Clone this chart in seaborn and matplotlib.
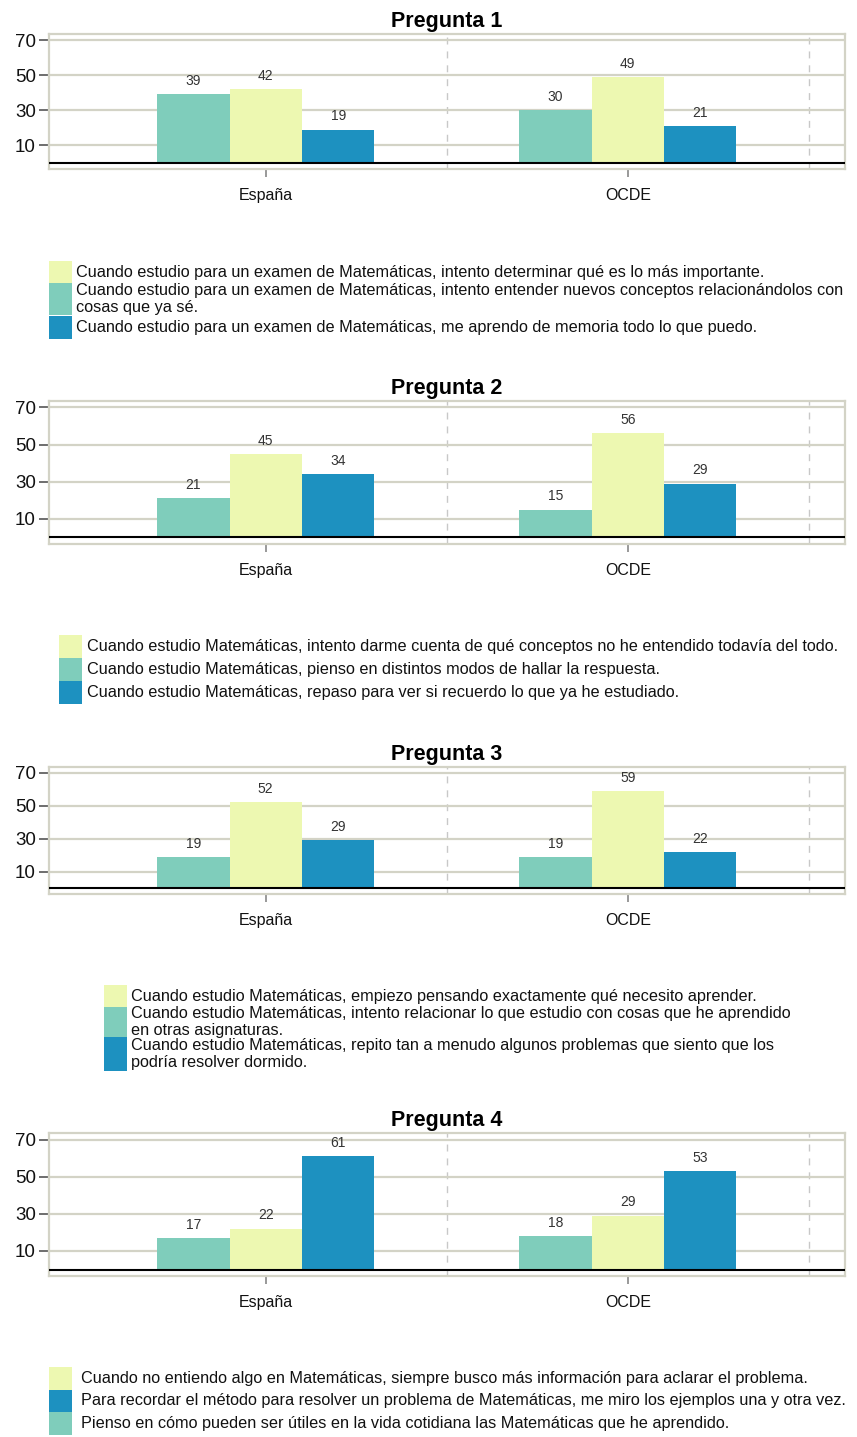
import pandas as pd
import seaborn as sns
import matplotlib.pyplot as plt
from matplotlib.patches import Rectangle

regions = ["España", "OCDE"]
# bar order inside each group: teal, yellow, blue
bar_colors = ["#7fcdbb", "#edf8b1", "#1d91c0"]

q1_items = [
    "Cuando estudio para un examen de Matemáticas, intento entender nuevos conceptos relacionándolos con\ncosas que ya sé.",
    "Cuando estudio para un examen de Matemáticas, intento determinar qué es lo más importante.",
    "Cuando estudio para un examen de Matemáticas, me aprendo de memoria todo lo que puedo.",
]
q1_espana = [39, 42, 19]
q1_ocde = [30, 49, 21]
q1_legend = [1, 0, 2]

q2_items = [
    "Cuando estudio Matemáticas, pienso en distintos modos de hallar la respuesta.",
    "Cuando estudio Matemáticas, intento darme cuenta de qué conceptos no he entendido todavía del todo.",
    "Cuando estudio Matemáticas, repaso para ver si recuerdo lo que ya he estudiado.",
]
q2_espana = [21, 45, 34]
q2_ocde = [15, 56, 29]
q2_legend = [1, 0, 2]

q3_items = [
    "Cuando estudio Matemáticas, intento relacionar lo que estudio con cosas que he aprendido\nen otras asignaturas.",
    "Cuando estudio Matemáticas, empiezo pensando exactamente qué necesito aprender.",
    "Cuando estudio Matemáticas, repito tan a menudo algunos problemas que siento que los\npodría resolver dormido.",
]
q3_espana = [19, 52, 29]
q3_ocde = [19, 59, 22]
q3_legend = [1, 0, 2]

q4_items = [
    "Pienso en cómo pueden ser útiles en la vida cotidiana las Matemáticas que he aprendido.",
    "Cuando no entiendo algo en Matemáticas, siempre busco más información para aclarar el problema.",
    "Para recordar el método para resolver un problema de Matemáticas, me miro los ejemplos una y otra vez.",
]
q4_espana = [17, 22, 61]
q4_ocde = [18, 29, 53]
q4_legend = [1, 2, 0]

panels = [
    (q1_items, q1_espana, q1_ocde, q1_legend),
    (q2_items, q2_espana, q2_ocde, q2_legend),
    (q3_items, q3_espana, q3_ocde, q3_legend),
    (q4_items, q4_espana, q4_ocde, q4_legend),
]

# layout in pixels (top, bottom of plot frame) and legend blocks
W, H = 857, 1437
frames = [(34, 169), (401, 544), (767, 894), (1133, 1276)]
legend_boxes = [
    (49, 76, [(261, 283), (283, 315), (316, 339)]),
    (59, 87, [(635, 658), (658, 681), (681, 704)]),
    (104, 131, [(985, 1007), (1007, 1037), (1037, 1071)]),
    (49, 81, [(1367, 1390), (1390, 1412), (1412, 1435)]),
]
frame_color = "#d3d3c6"

sns.set_theme(style="white")
plt.rcParams['font.family'] = ['Liberation Sans', 'DejaVu Sans']

fig = plt.figure(figsize=(W / 100, H / 100), dpi=100)

for i, (items, esp, ocde, order) in enumerate(panels):
    top, bottom = frames[i]
    ax = fig.add_axes([48.5 / W, 1 - bottom / H, (845 - 48.5) / W, (bottom - top) / H])

    keys = ["a", "b", "c"]
    df = pd.DataFrame({
        "region": [r for r in regions for _ in keys],
        "item": keys * len(regions),
        "value": esp + ocde,
    })
    sns.barplot(data=df, x="region", y="value", hue="item", hue_order=keys,
                palette=bar_colors, width=0.6, saturation=1, legend=False,
                ax=ax, edgecolor="none", linewidth=0)
    for cont in ax.containers:
        ax.bar_label(cont, fmt="%d", padding=4.5, fontsize=10, color="#333333")

    ax.set_xlim(-0.6, 1.6)
    ax.set_ylim(-3.5, 73.5)
    ax.set_yticks([10, 30, 50, 70])
    ax.grid(axis="y", color=frame_color, lw=1.6)
    ax.set_axisbelow(True)
    for k in range(len(regions)):
        ax.axvline(k + 0.5, color="#c8c8c8", lw=1, ls=(0, (5, 5)), zorder=0.5)
    ax.axhline(0, color="black", lw=1.5, zorder=3)
    for sp in ax.spines.values():
        sp.set_color(frame_color)
        sp.set_linewidth(1.6)
    ax.tick_params(axis="y", left=True, length=7, width=1.2, color="#555555",
                   labelsize=13.5, pad=2, labelcolor="#111111")
    ax.tick_params(axis="x", bottom=True, length=6, width=1.2, color="#888888",
                   labelsize=11.5, pad=8, labelcolor="#111111")
    ax.set_xlabel("")
    ax.set_ylabel("")
    ax.set_title(f"Pregunta {i + 1}", fontsize=15.5, fontweight="bold", pad=5, color="black")

    # legend block
    px, tx, rows = legend_boxes[i]
    for (r0, r1), idx in zip(rows, order):
        fig.add_artist(Rectangle((px / W, 1 - r1 / H), 23 / W, (r1 - r0) / H,
                                 transform=fig.transFigure, color=bar_colors[idx], lw=0))
        fig.text(tx / W, 1 - (r0 + r1) / 2 / H, items[idx], va="center", ha="left",
                 fontsize=11.7, linespacing=1.22, color="#111111")

fig.savefig("out.png", dpi=100)
